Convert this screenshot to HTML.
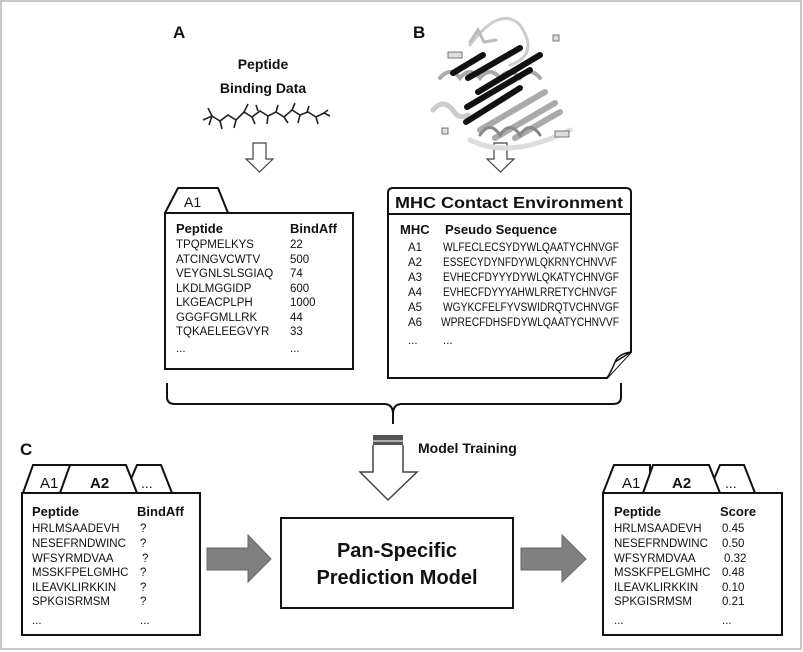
<!DOCTYPE html>
<html><head><meta charset="utf-8"><style>
html,body{margin:0;padding:0;background:#fff}
svg{display:block}
text{font-family:"Liberation Sans",sans-serif;fill:#111}
.b{font-weight:bold}
.h{font-size:13px;font-weight:bold}
</style></head><body>
<svg width="803" height="652" viewBox="0 0 803 652" xmlns="http://www.w3.org/2000/svg">
<rect x="1" y="1" width="800" height="648" fill="#fff" stroke="#c8c8c8" stroke-width="2"/>
<text x="173" y="38" class="b" font-size="17">A</text>
<text x="413" y="38" class="b" font-size="17">B</text>
<text x="20" y="455" class="b" font-size="17">C</text>
<text x="263" y="69" class="b" font-size="14" text-anchor="middle">Peptide</text>
<text x="263" y="93" class="b" font-size="14" text-anchor="middle">Binding Data</text>
<g stroke="#222" stroke-width="1.6" fill="none">
<polyline points="203,120 212,116 220,121 228,115 236,120 244,112 252,117 260,111 268,116 276,112 284,117 292,110 300,115 308,112 316,117 324,113 330,116"/>
<path d="M212,116 l-4,-8 M212,116 l-3,9 M220,121 l2,8 M236,120 l-2,8 M244,112 l4,-8 M252,117 l3,7 M268,116 l-1,8 M276,112 l2,-7 M284,117 l4,6 M292,110 l3,-7 M300,115 l-2,8 M316,117 l2,7 M324,113 l4,-3 M258,111 l-2,-6 M307,112 l2,-6"/>
</g>
<path d="M253,143 h13 v16 h7 l-13.5,13 l-13.5,-13 h7 z" fill="#fff" stroke="#444" stroke-width="1.2"/>
<path d="M494,143 h13 v16 h7 l-13.5,13 l-13.5,-13 h7 z" fill="#fff" stroke="#444" stroke-width="1.2"/>
<g fill="none" stroke-linecap="round">
<path d="M470,45 q30,-40 50,-20 q20,30 -10,40" stroke="#ccc" stroke-width="3"/>
<path d="M470,42 l8,-12 l6,12 l12,-2" stroke="#bbb" stroke-width="3"/>
<path d="M440,78 q10,-12 20,0 q10,-12 20,0 q10,-12 20,0 q10,-12 20,0 q10,-12 20,0" stroke="#aaa" stroke-width="4"/>
<path d="M433,110 q10,-12 20,0 q5,10 15,5" stroke="#ccc" stroke-width="5"/>
<path d="M470,140 q40,20 100,-10" stroke="#ddd" stroke-width="5"/>
<g stroke="#111" stroke-width="6">
<line x1="453" y1="73" x2="483" y2="55"/>
<line x1="468" y1="78" x2="520" y2="48"/>
<line x1="478" y1="92" x2="540" y2="55"/>
<line x1="467" y1="107" x2="530" y2="70"/>
<line x1="466" y1="122" x2="520" y2="88"/>
</g>
<g stroke="#aaa" stroke-width="6">
<line x1="480" y1="130" x2="545" y2="92"/>
<line x1="495" y1="138" x2="555" y2="103"/>
<line x1="515" y1="138" x2="560" y2="112"/>
</g>
<path d="M480,135 q10,-15 20,0 q10,-15 20,0 q10,-15 20,0" stroke="#888" stroke-width="3"/>
</g>
<g fill="#ddd" stroke="#777" stroke-width="1">
<rect x="448" y="52" width="14" height="6"/><rect x="555" y="131" width="14" height="6"/>
<rect x="553" y="35" width="6" height="6"/><rect x="442" y="128" width="6" height="6"/>
</g>
<!-- Box A -->
<path d="M165,213 L178,188 H218 L228,213" fill="#fff" stroke="#111" stroke-width="2"/>
<rect x="165" y="213" width="188" height="156" fill="#fff" stroke="#111" stroke-width="2"/>
<text x="184" y="207" font-size="14">A1</text>
<text x="176" y="233" class="h">Peptide</text><text x="290" y="233" class="h">BindAff</text>
<g font-size="11.5">
<text x="176" y="248">TPQPMELKYS</text><text x="290" y="248">22</text>
<text x="176" y="263">ATCINGVCWTV</text><text x="290" y="263">500</text>
<text x="176" y="277">VEYGNLSLSGIAQ</text><text x="290" y="277">74</text>
<text x="176" y="292">LKDLMGGIDP</text><text x="290" y="292">600</text>
<text x="176" y="306">LKGEACPLPH</text><text x="290" y="306">1000</text>
<text x="176" y="321">GGGFGMLLRK</text><text x="290" y="321">44</text>
<text x="176" y="335">TQKAELEEGVYR</text><text x="290" y="335">33</text>
<text x="176" y="352">...</text><text x="290" y="352">...</text>
</g>
<!-- Box B -->
<path d="M388,214 V193 q0,-5 5,-5 H626 q5,0 5,5 V214" fill="#fff" stroke="#111" stroke-width="2"/>
<path d="M388,214 H631 V352 L607,378 H388 Z" fill="#fff" stroke="#111" stroke-width="2"/>
<path d="M631,352 Q618,354 615,362 Q611,372 607,378 M615,362 L631,352" fill="#fff" stroke="#111" stroke-width="1.5"/>
<text x="509" y="208" text-anchor="middle" class="b" font-size="15.5" textLength="228" lengthAdjust="spacingAndGlyphs">MHC Contact Environment</text>
<text x="400" y="234" class="h">MHC</text><text x="445" y="234" class="h">Pseudo Sequence</text>
<g font-size="11.5">
<text x="408" y="251">A1</text><text x="443" y="251" textLength="176" lengthAdjust="spacingAndGlyphs">WLFECLECSYDYWLQAATYCHNVGF</text>
<text x="408" y="266">A2</text><text x="443" y="266" textLength="174" lengthAdjust="spacingAndGlyphs">ESSECYDYNFDYWLQKRNYCHNVVF</text>
<text x="408" y="281">A3</text><text x="443" y="281" textLength="176" lengthAdjust="spacingAndGlyphs">EVHECFDYYYDYWLQKATYCHNVGF</text>
<text x="408" y="296">A4</text><text x="443" y="296" textLength="174" lengthAdjust="spacingAndGlyphs">EVHECFDYYYAHWLRRETYCHNVGF</text>
<text x="408" y="311">A5</text><text x="443" y="311" textLength="176" lengthAdjust="spacingAndGlyphs">WGYKCFELFYVSWIDRQTVCHNVGF</text>
<text x="408" y="326">A6</text><text x="441" y="326" textLength="178" lengthAdjust="spacingAndGlyphs">WPRECFDHSFDYWLQAATYCHNVVF</text>
<text x="408" y="344">...</text><text x="443" y="344">...</text>
</g>
<!-- brace -->
<path d="M167,383 V397 q0,7 8,7 H384 q9,0 9,10 V424 M393,414 q0,-10 9,-10 H613 q8,0 8,-7 V383" fill="none" stroke="#111" stroke-width="2"/>
<rect x="373" y="435" width="30" height="10" fill="#555"/>
<line x1="373" y1="441" x2="403" y2="441" stroke="#ccc" stroke-width="1.5"/>
<path d="M373,445 V472 H360 L388,500 L417,472 H403 V445" fill="#fff" stroke="#444" stroke-width="1.5"/>
<text x="418" y="453" class="b" font-size="14">Model Training</text>
<g stroke="#111" stroke-width="2" fill="#fff">
<path d="M23,493 L33,465 H72 L68,493"/>
<path d="M125,493 L137,465 H161 L172,493"/>
<path d="M60,493 L70,465 H126 L137,493"/>
<rect x="22" y="493" width="178" height="142"/>
<path d="M603,493 L614,465 H650 L650,493"/>
<path d="M708,493 L720,465 H744 L755,493"/>
<path d="M643,493 L653,465 H709 L720,493"/>
<rect x="603" y="493" width="179" height="142"/>
<rect x="281" y="518" width="232" height="90"/>
</g>
<text x="40" y="488" font-size="15">A1</text><text x="90" y="488" class="b" font-size="15">A2</text><text x="141" y="488" font-size="14">...</text>
<text x="622" y="488" font-size="15">A1</text><text x="672" y="488" class="b" font-size="15">A2</text><text x="725" y="488" font-size="14">...</text>
<text x="32" y="516" class="h">Peptide</text><text x="137" y="516" class="h">BindAff</text>
<g font-size="11.5">
<text x="32" y="532">HRLMSAADEVH</text><text x="140" y="532">?</text>
<text x="32" y="547">NESEFRNDWINC</text><text x="140" y="547">?</text>
<text x="32" y="562">WFSYRMDVAA</text><text x="142" y="562">?</text>
<text x="32" y="576">MSSKFPELGMHC</text><text x="140" y="576">?</text>
<text x="32" y="591">ILEAVKLIRKKIN</text><text x="140" y="591">?</text>
<text x="32" y="605">SPKGISRMSM</text><text x="140" y="605">?</text>
<text x="32" y="624">...</text><text x="140" y="624">...</text>
</g>
<text x="614" y="516" class="h">Peptide</text><text x="720" y="516" class="h">Score</text>
<g font-size="11.5">
<text x="614" y="532">HRLMSAADEVH</text><text x="722" y="532">0.45</text>
<text x="614" y="547">NESEFRNDWINC</text><text x="722" y="547">0.50</text>
<text x="614" y="562">WFSYRMDVAA</text><text x="724" y="562">0.32</text>
<text x="614" y="576">MSSKFPELGMHC</text><text x="722" y="576">0.48</text>
<text x="614" y="591">ILEAVKLIRKKIN</text><text x="722" y="591">0.10</text>
<text x="614" y="605">SPKGISRMSM</text><text x="722" y="605">0.21</text>
<text x="614" y="624">...</text><text x="722" y="624">...</text>
</g>
<text x="397" y="557" text-anchor="middle" class="b" font-size="20">Pan-Specific</text>
<text x="397" y="584" text-anchor="middle" class="b" font-size="20">Prediction Model</text>
<path d="M207,548 H248 V535 L271,559 L248,582 V570 H207 Z" fill="#808080" stroke="#666" stroke-width="1"/>
<path d="M521,548 H562 V535 L586,559 L562,582 V570 H521 Z" fill="#808080" stroke="#666" stroke-width="1"/>
</svg>
</body></html>
